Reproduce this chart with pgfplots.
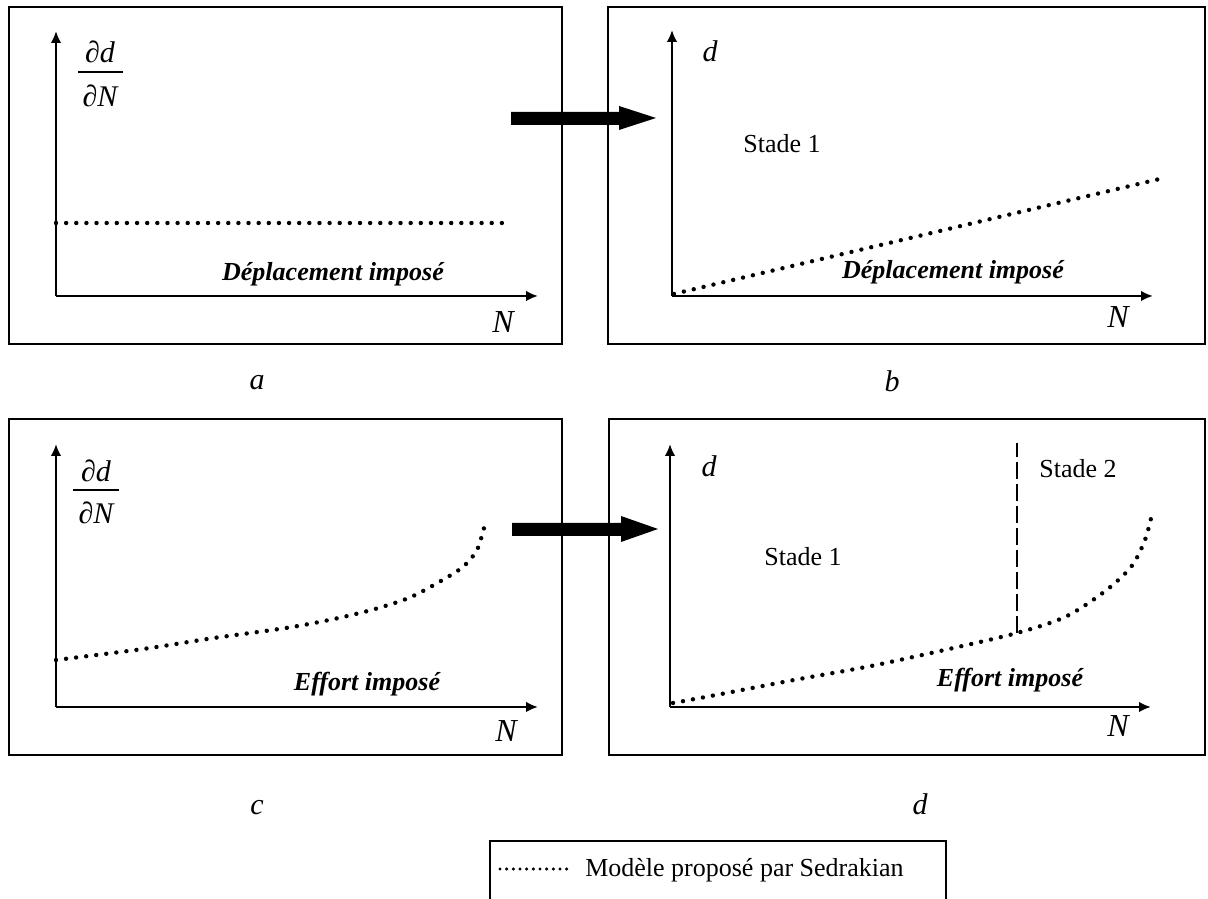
\documentclass[border=0pt]{standalone}
\usepackage{fontspec}
\setmainfont{Liberation Serif}
\usepackage{pgfplots}
\pgfplotsset{compat=1.18}
\usetikzlibrary{arrows.meta}
\pgfplotsset{panel/.style={
  scale only axis, anchor=south west,
  axis lines=none,
  xtick=\empty, ytick=\empty, xmin=0, ymin=0,
  enlargelimits=false, clip=false}}
\tikzset{dotted curve/.style={line width=3.3pt, line cap=round, dash pattern=on 0pt off 7.6pt},
  box/.style={line width=1.5pt}}
\newcommand\fs[1]{\fontsize{#1}{#1}\selectfont}
\newcommand\axarrow[2]{\draw[line width=2.2pt, arrows={-Latex[length=9pt,width=8pt]}] #1 -- #2;}
\begin{document}
\begin{tikzpicture}[x=0.75pt,y=0.75pt]
\useasboundingbox (0,0) rectangle (1208,899);
% boxes
\draw[box] (9,892) rectangle (562,555);
\draw[box] (608,892) rectangle (1205,555);
\draw[box] (9,480) rectangle (562,144);
\draw[box] (609,480) rectangle (1205,144);
% axis arrows
\axarrow{(56,603)}{(538,603)}
\axarrow{(56,603)}{(56,868)}
\axarrow{(672,603)}{(1153,603)}
\axarrow{(672,603)}{(672,869)}
\axarrow{(56,192)}{(538,192)}
\axarrow{(56,192)}{(56,455)}
\axarrow{(670,192)}{(1151,192)}
\axarrow{(670,192)}{(670,455)}
% panel a
\begin{axis}[panel, at={(56,603)}, width=360.75pt, height=198pt, xmax=481, ymax=264]
\addplot[dotted curve] coordinates {(0,73) (455,73)};
\end{axis}
% panel b
\begin{axis}[panel, at={(672,603)}, width=360pt, height=199.5pt, xmax=480, ymax=266]
\addplot[dotted curve] coordinates {(2,2) (488,117)};
\end{axis}
% panel c
\begin{axis}[panel, at={(56,192)}, width=360.75pt, height=196.5pt, xmax=481, ymax=262]
\addplot[dotted curve, smooth] coordinates {(0,47) (87,58) (158,69) (230,79) (278,88) (319,98) (355,110) (390,129) (408,141) (421,157) (428,179)};
\end{axis}
% panel d
\begin{axis}[panel, at={(670,192)}, width=360pt, height=196.5pt, xmax=480, ymax=262]
\addplot[dotted curve, smooth] coordinates {(3,4) (46,12) (124,27) (201,41) (279,58) (347,74) (395,90) (434,115) (461,140) (475,167) (482,193)};
\addplot[line width=1.2pt, dash pattern=on 12.75pt off 3.75pt] coordinates {(347,74) (347,264)};
\end{axis}
% block arrows
\fill (511,787) -- (619,787) -- (619,793) -- (656,781) -- (619,769) -- (619,774) -- (511,774) -- cycle;
\fill (512,376) -- (621,376) -- (621,383) -- (658,370) -- (621,357) -- (621,363) -- (512,363) -- cycle;
% labels panel a
\node[anchor=base, inner sep=0pt] at (100,836) {\fs{22.5}\itshape ∂d};
\draw[line width=1.2pt] (78,827) -- (123,827);
\node[anchor=base, inner sep=0pt] at (100,792) {\fs{22.5}\itshape ∂N};
\node[anchor=base, inner sep=0pt] at (333,618) {\fs{19.5}\bfseries\itshape Déplacement imposé};
\node[anchor=base, inner sep=0pt] at (503,566) {\fs{24}\itshape N};
\node[anchor=base, inner sep=0pt] at (257,509) {\fs{22.5}\itshape a};
% panel b
\node[anchor=base, inner sep=0pt] at (710,837) {\fs{22.5}\itshape d};
\node[anchor=base, inner sep=0pt] at (782,746) {\fs{19.5}Stade 1};
\node[anchor=base, inner sep=0pt] at (953,620) {\fs{19.5}\bfseries\itshape Déplacement imposé};
\node[anchor=base, inner sep=0pt] at (1118,571) {\fs{24}\itshape N};
\node[anchor=base, inner sep=0pt] at (892,507) {\fs{22.5}\itshape b};
% panel c
\node[anchor=base, inner sep=0pt] at (96,417) {\fs{22.5}\itshape ∂d};
\draw[line width=1.2pt] (73,409) -- (119,409);
\node[anchor=base, inner sep=0pt] at (96,375) {\fs{22.5}\itshape ∂N};
\node[anchor=base, inner sep=0pt] at (367,208) {\fs{19.5}\bfseries\itshape Effort imposé};
\node[anchor=base, inner sep=0pt] at (506,157) {\fs{24}\itshape N};
\node[anchor=base, inner sep=0pt] at (257,84) {\fs{22.5}\itshape c};
% panel d
\node[anchor=base, inner sep=0pt] at (709,422) {\fs{22.5}\itshape d};
\node[anchor=base, inner sep=0pt] at (1078,421) {\fs{19.5}Stade 2};
\node[anchor=base, inner sep=0pt] at (803,333) {\fs{19.5}Stade 1};
\node[anchor=base, inner sep=0pt] at (1010,212) {\fs{19.5}\bfseries\itshape Effort imposé};
\node[anchor=base, inner sep=0pt] at (1118,162) {\fs{24}\itshape N};
\node[anchor=base, inner sep=0pt] at (920,84) {\fs{22.5}\itshape d};
% legend
\draw[box] (490,-6) -- (490,58) -- (946,58) -- (946,-6);
\draw[line width=2.6pt, line cap=round, dash pattern=on 0pt off 5pt] (500,30) -- (572,30);
\node[anchor=base west, inner sep=0pt] at (585,22) {\fs{19.5}Modèle proposé par Sedrakian};
\end{tikzpicture}
\end{document}
